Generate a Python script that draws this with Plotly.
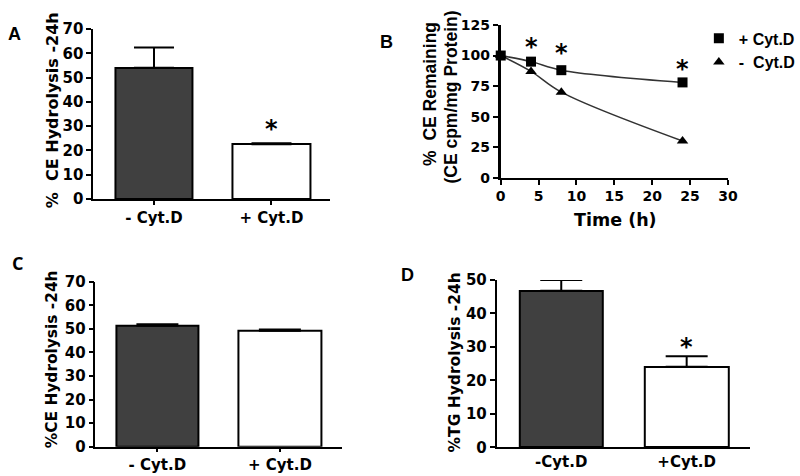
import plotly.graph_objects as go

# ---------------- data ----------------
cats_ac = ["- Cyt.D", "+ Cyt.D"]
cats_d = ["-Cyt.D", "+Cyt.D"]

a_vals = [54.0, 22.5]
a_err = [8.4, 0.5]

b_time = [0, 4, 8, 24]
b_plus = [100, 95, 88, 78]
b_minus = [100, 87, 70, 30]
b_star_x = [4, 8, 24]
b_star_y = [107, 102, 89]

c_vals = [51.3, 49.2]
c_err = [0.6, 0.5]

d_vals = [46.8, 24.1]
d_err = [3.2, 3.1]

a_ticks = [0, 10, 20, 30, 40, 50, 60, 70]
b_yticks = [0, 25, 50, 75, 100, 125]
b_xticks = [0, 5, 10, 15, 20, 25, 30]
c_ticks = [0, 10, 20, 30, 40, 50, 60, 70]
d_ticks = [0, 10, 20, 30, 40, 50]

# ---------------- style ----------------
DARK = "#404040"
TF = "DejaVu Sans"
tickfont = dict(family=TF, size=15, color="black", weight="bold")
catfont = dict(family=TF, size=15, color="black", weight="bold")
btickfont = dict(family=TF, size=14, color="black", weight="bold")

fig = go.Figure()

def bars(vals, err, xa, ya, width, ecap):
    fig.add_trace(go.Bar(
        x=[0, 1], y=vals, width=width,
        marker=dict(color=[DARK, "white"], line=dict(color="black", width=2)),
        error_y=dict(type="data", array=err, arrayminus=[0, 0], symmetric=False,
                     color="black", thickness=2, width=ecap),
        xaxis=xa, yaxis=ya, showlegend=False, cliponaxis=False))

bars(a_vals, a_err, "x", "y", 0.66, 20)
bars(c_vals, c_err, "x3", "y3", 0.675, 21)
bars(d_vals, d_err, "x4", "y4", 0.667, 21)

# panel B lines (smooth through the data points)
fig.add_trace(go.Scatter(x=b_time, y=b_plus, mode="lines", line=dict(color="#333", width=1.5, shape="spline"),
                         xaxis="x2", yaxis="y2", showlegend=False, cliponaxis=False))
fig.add_trace(go.Scatter(x=b_time, y=b_minus, mode="lines", line=dict(color="#333", width=1.5, shape="spline"),
                         xaxis="x2", yaxis="y2", showlegend=False, cliponaxis=False))
fig.add_trace(go.Scatter(x=b_time, y=b_plus, mode="markers", name="+ Cyt.D",
                         marker=dict(symbol="square", size=10, color="black"),
                         xaxis="x2", yaxis="y2", cliponaxis=False))
fig.add_trace(go.Scatter(x=b_time, y=b_minus, mode="markers", name="-  Cyt.D",
                         marker=dict(symbol="triangle-up", size=10, color="black"),
                         xaxis="x2", yaxis="y2", cliponaxis=False))

def axis_common(**kw):
    d = dict(showline=True, linecolor="black", linewidth=2, ticks="outside", ticklen=5,
             tickwidth=2, tickcolor="black", showgrid=False, zeroline=False,
             tickfont=tickfont, fixedrange=True, automargin=False)
    d.update(kw)
    return d

fig.update_layout(
    width=800, height=476,
    margin=dict(l=0, r=0, t=0, b=0),
    paper_bgcolor="white", plot_bgcolor="white",
    bargap=0,
    # Panel A
    xaxis=axis_common(domain=[0.11875, 0.41875], range=[-0.515, 1.494], anchor="y",
                      tickvals=[0, 1], ticktext=cats_ac, tickfont=catfont, ticklen=4),
    yaxis=axis_common(domain=[0.5819, 0.9391], range=[0, 70], anchor="x", tickvals=a_ticks),
    # Panel B
    xaxis2=axis_common(domain=[0.63625, 0.925], range=[0, 30], anchor="y2", tickvals=b_xticks,
                       tickfont=btickfont),
    yaxis2=axis_common(domain=[0.6267, 0.9475], range=[0, 125], anchor="x2", tickvals=b_yticks,
                       linewidth=3, tickfont=btickfont),
    # Panel C
    xaxis3=axis_common(domain=[0.12125, 0.435], range=[-0.506, 1.51], anchor="y3",
                       tickvals=[0, 1], ticktext=cats_ac, tickfont=catfont, ticklen=4, linewidth=1.5),
    yaxis3=axis_common(domain=[0.0616, 0.4082], range=[0, 70], anchor="x3", tickvals=c_ticks, linewidth=1.5),
    # Panel D
    xaxis4=axis_common(domain=[0.63125, 0.9525], range=[-0.514, 1.502], anchor="y4",
                       tickvals=[0, 1], ticktext=cats_d, tickfont=catfont, ticklen=0),
    yaxis4=axis_common(domain=[0.0603, 0.4118], range=[0, 50], anchor="x4", tickvals=d_ticks),
    legend=dict(x=0.888, y=0.955, xanchor="left", yanchor="top",
                font=dict(family="Liberation Sans", size=16, color="black", weight="bold"),
                bgcolor="rgba(0,0,0,0)", itemwidth=30, tracegroupgap=0),
)

ann = []
def txt(x, y, text, size, xref="paper", yref="paper", angle=0, family=TF, xanchor="center"):
    ann.append(dict(x=x, y=y, xref=xref, yref=yref, text=text, showarrow=False, textangle=angle,
                    xanchor=xanchor, yanchor="middle",
                    font=dict(family=family, size=size, color="black", weight="bold")))

# panel letters
txt(15 / 800, 1 - 34 / 476, "A", 18, family="Liberation Sans")
txt(393 / 800, 1 - 42 / 476, "B", 18, family="Liberation Sans")
txt(18 / 800, 1 - 263 / 476, "C", 18, family="Open Sans")
txt(414 / 800, 1 - 275 / 476, "D", 18, family="Liberation Sans")

# y-axis titles
txt(53 / 800, 1 - 110 / 476, "%  CE Hydrolysis -24h", 16, angle=-90)
txt(53 / 800, 1 - 359 / 476, "%CE Hydrolysis -24h", 15.4, angle=-90)
txt(463 / 800, 1 - 362 / 476, "%TG Hydrolysis -24h", 15.5, angle=-90)
txt(437 / 800, 1 - 94 / 476, "%  CE Remaining", 17.5, angle=-90, family="Liberation Sans")
txt(458 / 800, 1 - 97 / 476, "(CE cpm/mg Protein)", 17.5, angle=-90, family="Liberation Sans")
# x title B
txt(626 / 800, 1 - 220 / 476, "Time (h)", 17.5)

# asterisks
txt(1, 29.0, "*", 24, xref="x", yref="y")
txt(1, 30.0, "*", 24, xref="x4", yref="y4")
for sx, sy in zip(b_star_x, b_star_y):
    txt(sx, sy, "*", 24, xref="x2", yref="y2")

fig.update_layout(annotations=ann)
fig.write_html("out.html", config={"displayModeBar": False},
               post_script="document.body.style.margin='0';document.body.style.overflow='hidden';")
